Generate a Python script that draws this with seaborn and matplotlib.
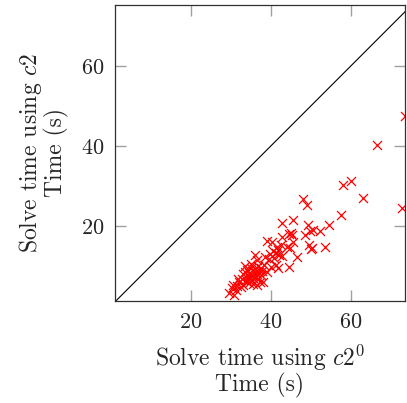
import numpy as np
import pandas as pd
import matplotlib
matplotlib.use("Agg")
import matplotlib.pyplot as plt
import seaborn as sns

# solve times (s)
time_c20 = [
    73.5, 72.7, 66.5, 59.9, 58.1, 62.9, 57.4, 54.5, 52.2, 53.5,
    50.2, 49.5, 48.1, 48.9, 49.2, 49.8, 48.5, 50.4, 45.4, 42.8,
    45.0, 44.6, 42.8, 39.1, 40.2, 45.2, 45.6, 43.9, 41.5, 42.5,
    44.8, 46.6, 44.4, 50.0,
    36.0, 36.4, 38.5, 39.8, 40.5, 41.2, 42.0, 42.7, 40.8, 39.5,
    41.8, 40.0, 41.3, 41.8, 38.0, 39.0, 37.5,
    33.0, 33.5, 34.0, 34.5, 35.0, 35.5, 36.0, 36.5, 37.0, 34.2,
    34.8, 35.3, 35.8, 36.2, 36.8, 37.5, 33.8, 32.8, 32.0, 33.0,
    31.5, 30.4, 29.6, 30.8, 31.2, 32.5, 34.5, 35.5, 36.5, 37.2,
    33.5, 35.0, 36.8, 38.2, 34.0, 35.0, 36.0, 37.8, 30.2, 31.8,
]
time_c2 = [
    47.5, 24.4, 40.3, 31.3, 30.2, 26.9, 22.8, 20.1, 18.6, 14.8,
    14.5, 15.2, 26.6, 25.2, 20.1, 18.8, 17.8, 19.0, 21.5, 20.7,
    18.2, 18.0, 17.2, 16.2, 16.0, 17.6, 15.9, 14.8, 14.6, 15.2,
    14.5, 12.2, 9.7, 14.3,
    12.8, 11.5, 12.3, 13.0, 13.6, 13.2, 12.8, 12.4, 12.0, 11.8,
    14.0, 9.8, 10.2, 9.5, 6.0, 8.5, 9.5,
    8.0, 8.5, 9.0, 8.2, 9.5, 8.8, 9.2, 8.0, 9.0, 7.5,
    7.0, 7.6, 6.8, 7.4, 6.6, 7.8, 6.4, 6.8, 6.0, 5.3,
    5.0, 5.3, 3.2, 2.8, 4.0, 4.8, 5.8, 5.5, 5.2, 6.0,
    10.0, 10.5, 10.0, 10.2, 6.0, 6.4, 8.5, 8.8, 4.4, 6.6,
]
diag = [0, 80]

df = pd.DataFrame({"c20": time_c20, "c2": time_c2})

sns.set_style("ticks")
plt.rcParams["font.family"] = ["cmr10", "DejaVu Serif"]
plt.rcParams["mathtext.fontset"] = "cm"
plt.rcParams["axes.formatter.use_mathtext"] = True

fig = plt.figure(figsize=(4.07, 4.03), dpi=100)
ax = fig.add_axes([0.2826, 0.2531, 0.7124, 0.7345])

sns.lineplot(x=diag, y=diag, color="black", linewidth=0.8, ax=ax)
sns.scatterplot(data=df, x="c20", y="c2", marker="x", color="red",
                s=42, linewidth=0.9, ax=ax)

ax.set_xlim(1, 73.5)
ax.set_ylim(1.2, 75.2)
ax.set_xticks([20, 40, 60])
ax.set_yticks([20, 40, 60])
ax.tick_params(direction="in", length=8, width=1, color="#a0a0a0",
               top=True, right=True, labelsize=16, pad=8)
for sp in ax.spines.values():
    sp.set_color("#303030")
    sp.set_linewidth(0.9)

ax.set_xlabel("Solve time using $c2^0$\nTime (s)", fontsize=17, labelpad=8,
              linespacing=1.0)
ax.set_ylabel("Solve time using $c2$\nTime (s)", fontsize=17, labelpad=8,
              linespacing=1.0)

fig.savefig("out.png", dpi=100)
